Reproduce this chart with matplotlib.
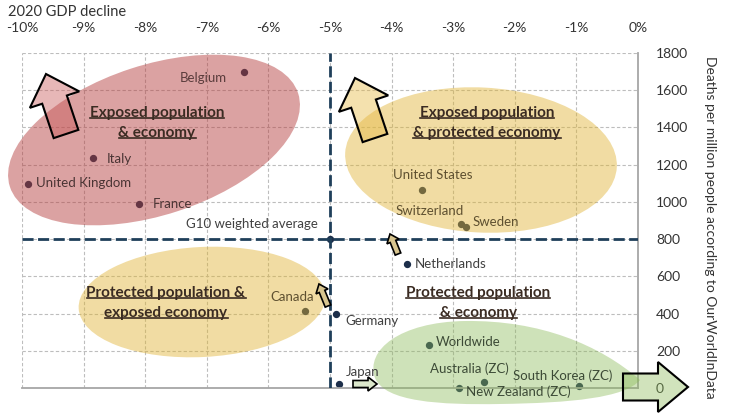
import matplotlib
matplotlib.use("Agg")
import matplotlib.pyplot as plt
from matplotlib.patches import Ellipse, FancyArrow, PathPatch
from matplotlib.path import Path
from matplotlib.transforms import Affine2D, IdentityTransform
from matplotlib.lines import Line2D

plt.rcParams['font.family'] = ['Lato', 'DejaVu Sans']

# data
countries = ["Belgium", "Italy", "United Kingdom", "France", "G10 weighted average",
             "United States", "Switzerland", "Sweden", "Netherlands", "Canada",
             "Germany", "Japan", "Worldwide", "Australia (ZC)", "South Korea (ZC)",
             "New Zealand (ZC)"]
gdp_decline = [-6.4, -8.85, -9.9, -8.1, -5.0, -3.5, -2.87, -2.8, -3.75, -5.4,
               -4.9, -4.85, -3.4, -2.5, -0.95, -2.9]
deaths_per_million = [1700, 1235, 1095, 990, 800, 1065, 880, 865, 665, 415,
                      400, 20, 230, 30, 10, 0]

x_ticks = [-10, -9, -8, -7, -6, -5, -4, -3, -2, -1, 0]
y_ticks = [0, 200, 400, 600, 800, 1000, 1200, 1400, 1600, 1800]
g10_x, g10_y = -5.0, 800

# label placement (pixel offsets, horizontal alignment)
label_pos = {
    "Belgium": (-17, -6, "right"), "Italy": (14, -1, "left"),
    "United Kingdom": (8, 1, "left"), "France": (14, 0, "left"),
    "G10 weighted average": (-12, 15, "right"), "United States": (10, 15, "center"),
    "Switzerland": (3, 13, "right"), "Sweden": (7, 5, "left"),
    "Netherlands": (8, 0, "left"), "Canada": (9, 14, "right"),
    "Germany": (9, -7, "left"), "Japan": (7, 12, "left"),
    "Worldwide": (7, 3, "left"), "Australia (ZC)": (-15, 14, "center"),
    "South Korea (ZC)": (-17, 10, "center"), "New Zealand (ZC)": (7, -4, "left"),
}
tinted = {"Belgium": "#5a3c3c", "Italy": "#4a3434", "United Kingdom": "#4a3434",
          "France": "#4a3434", "United States": "#5e5030", "Switzerland": "#5e5030",
          "Sweden": "#5e5030", "Canada": "#5e5030", "Worldwide": "#3c4a36",
          "Australia (ZC)": "#3c4a36", "South Korea (ZC)": "#3c4a36",
          "New Zealand (ZC)": "#3c4a36"}

W, H = 750, 415
fig = plt.figure(figsize=(W / 100, H / 100), dpi=100)
ax = fig.add_axes([22 / W, 1 - 388 / H, 616 / W, 335 / H])
# pixel space, origin top-left, for the hand-drawn shapes
px = Affine2D().scale(0.01, -0.01).translate(0, H / 100) + fig.dpi_scale_trans

ax.set_xlim(-10, 0)
ax.set_ylim(0, 1800)
ax.set_xticks(x_ticks)
ax.set_xticklabels([f"{t}%" for t in x_ticks])
ax.set_yticks(y_ticks)
ax.xaxis.tick_top()
ax.yaxis.tick_right()
ax.tick_params(length=0, labelsize=10, colors="#333333")
ax.tick_params(axis="x", pad=14)
ax.tick_params(axis="y", pad=13)
ax.grid(True, color="#bdbdbd", linestyle=(0, (3, 2)), linewidth=0.8)
ax.set_axisbelow(True)
for side in ["top", "left"]:
    ax.spines[side].set_visible(False)
for side in ["right", "bottom"]:
    ax.spines[side].set_color("#a6a6a6")
    ax.spines[side].set_linewidth(1.3)

# points (under the tinted ellipses) and labels (above them)
ax.scatter(gdp_decline, deaths_per_million, s=18, color="#1c2e4a", zorder=2, clip_on=False)
for name, gx, gy in zip(countries, gdp_decline, deaths_per_million):
    dx, dy, ha = label_pos[name]
    ax.annotate(name, (gx, gy), xytext=(dx, dy), textcoords="offset pixels",
                ha=ha, va="center", fontsize=9.5, color=tinted.get(name, "#404040"),
                zorder=5)

# G10 average lines
avg_style = dict(color="#1f3f5a", linewidth=2, linestyle=(0, (4, 1.6)), zorder=6)
ax.axvline(g10_x, **avg_style)
ax.axhline(g10_y, **avg_style)

# quadrant ellipses
ellipses = [
    ((154, 140), 303, 150, 18, (0.71, 0.24, 0.24), 0.48),
    ((481, 160), 272, 145, -3, (0.88, 0.70, 0.2), 0.45),
    ((202, 302), 247, 110, 3, (0.88, 0.70, 0.2), 0.45),
]
for center, w, h, ang, col, a in ellipses:
    ax.add_patch(Ellipse(center, w, h, angle=-ang, transform=px, clip_on=False,
                         facecolor=col, alpha=a, edgecolor="none", zorder=3))

green_verts = [(640, 380), (600, 345), (540, 320), (465, 321),
               (400, 322), (365, 350), (375, 378),
               (385, 402), (440, 405), (500, 404),
               (570, 403), (625, 398), (640, 380), (640, 380)]
green_codes = [Path.MOVETO] + [Path.CURVE4] * 12 + [Path.CLOSEPOLY]
ax.add_patch(PathPatch(Path(green_verts, green_codes), transform=px, clip_on=False,
                       facecolor=(0.55, 0.73, 0.35), alpha=0.42,
                       edgecolor="none", zorder=3))

# arrows
arrows = [
    ((66, 134), (46, 74), 26, 52, 27, (0.78, 0.33, 0.33, 0.42), 1.5),
    ((375, 138), (355, 78), 26, 52, 27, (0.9, 0.72, 0.25, 0.42), 1.5),
    ((398, 254), (390, 234), 6, 13, 8, "#d8c58f", 1.2),
    ((328, 306), (319, 284), 6, 13, 8, "#d8c58f", 1.2),
    ((353, 384), (377, 384), 7, 14, 9, "#dce8cc", 1.2),
    ((623, 387), (688, 387), 27, 50, 30, (0.55, 0.73, 0.35, 0.4), 1.5),
]
for (x0, y0), (x1, y1), wd, hw, hl, fc, lw in arrows:
    ax.add_patch(FancyArrow(x0, y0, x1 - x0, y1 - y0, width=wd, head_width=hw,
                            head_length=hl, length_includes_head=True,
                            transform=px, clip_on=False, facecolor=fc,
                            edgecolor="black", linewidth=lw, zorder=7))

# quadrant titles
titles = [
    ((157, 113), "Exposed population"), ((157, 133), "& economy"),
    ((487, 113), "Exposed population"), ((487, 133), "& protected economy"),
    ((166, 293), "Protected population &"), ((166, 313), "exposed economy"),
    ((478, 293), "Protected population"), ((478, 313), "& economy"),
]
title_texts = []
for (tx, ty), s in titles:
    title_texts.append(ax.text(tx, ty, s, transform=px, ha="center", va="center",
                               fontsize=11, fontweight="bold", color="#3a2b22",
                               zorder=8))

fig.text(8 / W, 1 - 12 / H, "2020 GDP decline", fontsize=10.5, color="#333333",
         ha="left", va="center")
fig.text(710 / W, 1 - 227 / H, "Deaths per million people according to OurWorldInData",
         rotation=270, fontsize=10, color="#333333", ha="center", va="center")

# underline the quadrant titles
fig.canvas.draw()
renderer = fig.canvas.get_renderer()
for t in title_texts:
    bb = t.get_window_extent(renderer)
    ax.add_line(Line2D([bb.x0, bb.x1], [bb.y0 + 2, bb.y0 + 2],
                       transform=IdentityTransform(), clip_on=False,
                       color="#3a2b22", linewidth=1.2, zorder=8))

fig.savefig("out.png", dpi=100)
